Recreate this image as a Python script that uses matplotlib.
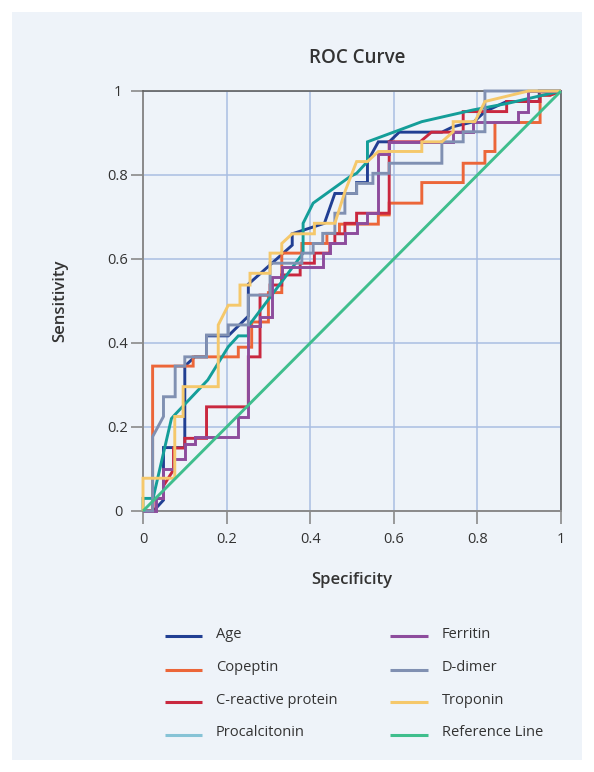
import matplotlib
matplotlib.use("Agg")
import matplotlib.pyplot as plt
from matplotlib.lines import Line2D
from matplotlib.patches import Rectangle

plt.rcParams['font.family'] = ['Open Sans', 'DejaVu Sans']

# ---------------- data (x = 1 - specificity axis value, y = sensitivity) ----------------
age_pts = [(0, 0), (0.025, 0), (0.049, 0.026), (0.049, 0.151), (0.1, 0.151), (0.1, 0.345),
           (0.124, 0.367), (0.152, 0.367), (0.152, 0.417), (0.204, 0.417), (0.252, 0.464),
           (0.252, 0.540), (0.357, 0.633), (0.357, 0.66), (0.434, 0.685), (0.459, 0.756),
           (0.511, 0.756), (0.511, 0.782), (0.537, 0.782), (0.537, 0.832), (0.563, 0.879),
           (0.589, 0.879), (0.613, 0.902), (0.715, 0.902), (0.742, 0.915), (0.792, 0.927),
           (0.818, 0.951), (0.870, 0.975), (0.948, 0.975), (0.948, 1), (1, 1)]

copeptin_pts = [(0, 0), (0.023, 0), (0.023, 0.345), (0.12, 0.345), (0.12, 0.367), (0.228, 0.367),
                (0.228, 0.39), (0.26, 0.39), (0.26, 0.45), (0.30, 0.45), (0.30, 0.52), (0.332, 0.52),
                (0.332, 0.614), (0.38, 0.614), (0.38, 0.637), (0.44, 0.637), (0.44, 0.661),
                (0.47, 0.661), (0.47, 0.683), (0.563, 0.683), (0.563, 0.705), (0.589, 0.705),
                (0.589, 0.733), (0.667, 0.733), (0.667, 0.782), (0.766, 0.782), (0.766, 0.828),
                (0.818, 0.828), (0.818, 0.856), (0.842, 0.856), (0.842, 0.925), (0.95, 0.925),
                (0.95, 0.99), (0.974, 0.99), (1, 1)]

crp_pts = [(0, 0), (0.024, 0), (0.024, 0.03), (0.049, 0.03), (0.049, 0.06), (0.073, 0.098),
           (0.073, 0.15), (0.1, 0.15), (0.1, 0.173), (0.152, 0.173), (0.152, 0.248), (0.252, 0.248),
           (0.252, 0.367), (0.28, 0.367), (0.28, 0.514), (0.304, 0.514), (0.304, 0.538),
           (0.332, 0.538), (0.332, 0.562), (0.376, 0.562), (0.376, 0.59), (0.41, 0.59),
           (0.41, 0.614), (0.447, 0.614), (0.447, 0.637), (0.459, 0.637), (0.459, 0.66),
           (0.483, 0.66), (0.483, 0.685), (0.511, 0.685), (0.511, 0.709), (0.589, 0.709),
           (0.589, 0.879), (0.663, 0.879), (0.69, 0.902), (0.766, 0.902), (0.766, 0.951),
           (0.870, 0.951), (0.870, 0.975), (0.95, 0.975), (0.95, 0.99), (0.974, 0.99), (1, 1)]

procalcitonin_pts = [(0, 0), (0, 0.03), (0.024, 0.03), (0.068, 0.22), (0.076, 0.229), (0.155, 0.312),
                     (0.204, 0.391), (0.228, 0.417), (0.252, 0.417), (0.252, 0.44), (0.335, 0.55),
                     (0.383, 0.614), (0.383, 0.685), (0.407, 0.733), (0.495, 0.796), (0.511, 0.804),
                     (0.537, 0.832), (0.537, 0.879), (0.613, 0.907), (0.667, 0.927), (0.79, 0.955),
                     (0.87, 0.97), (1, 1)]

ferritin_pts = [(0, 0), (0.03, 0), (0.03, 0.03), (0.049, 0.03), (0.049, 0.1), (0.073, 0.1),
                (0.073, 0.125), (0.1, 0.125), (0.1, 0.16), (0.124, 0.16), (0.124, 0.177),
                (0.228, 0.177), (0.228, 0.225), (0.252, 0.225), (0.252, 0.44), (0.28, 0.44),
                (0.28, 0.463), (0.308, 0.463), (0.308, 0.558), (0.332, 0.558), (0.332, 0.582),
                (0.43, 0.582), (0.43, 0.614), (0.447, 0.614), (0.447, 0.637), (0.483, 0.637),
                (0.483, 0.661), (0.511, 0.661), (0.511, 0.685), (0.537, 0.685), (0.537, 0.709),
                (0.563, 0.709), (0.563, 0.851), (0.589, 0.851), (0.589, 0.879), (0.742, 0.879),
                (0.742, 0.903), (0.79, 0.903), (0.79, 0.927), (0.898, 0.927), (0.898, 0.951),
                (0.922, 0.951), (0.922, 1), (1, 1)]

ddimer_pts = [(0, 0), (0.023, 0), (0.023, 0.177), (0.049, 0.225), (0.049, 0.272), (0.077, 0.272),
              (0.077, 0.345), (0.1, 0.345), (0.1, 0.367), (0.152, 0.367), (0.152, 0.419),
              (0.204, 0.419), (0.204, 0.443), (0.252, 0.443), (0.252, 0.514), (0.304, 0.514),
              (0.304, 0.59), (0.38, 0.59), (0.38, 0.614), (0.407, 0.614), (0.407, 0.637),
              (0.43, 0.637), (0.43, 0.661), (0.459, 0.661), (0.459, 0.709), (0.483, 0.709),
              (0.483, 0.756), (0.511, 0.756), (0.511, 0.78), (0.55, 0.78), (0.55, 0.804),
              (0.589, 0.804), (0.589, 0.828), (0.715, 0.828), (0.715, 0.879), (0.766, 0.879),
              (0.766, 0.903), (0.818, 0.903), (0.818, 1), (1, 1)]

troponin_pts = [(0, 0), (0, 0.078), (0.076, 0.078), (0.076, 0.225), (0.096, 0.225), (0.096, 0.296),
                (0.18, 0.296), (0.18, 0.443), (0.204, 0.49), (0.232, 0.49), (0.232, 0.538),
                (0.256, 0.538), (0.256, 0.566), (0.304, 0.566), (0.304, 0.614), (0.332, 0.614),
                (0.332, 0.637), (0.357, 0.66), (0.41, 0.66), (0.41, 0.685), (0.459, 0.685),
                (0.483, 0.76), (0.511, 0.832), (0.537, 0.832), (0.563, 0.856), (0.667, 0.856),
                (0.667, 0.879), (0.715, 0.879), (0.742, 0.903), (0.742, 0.927), (0.794, 0.927),
                (0.818, 0.975), (0.922, 1), (1, 1)]

reference_pts = [(0, 0), (1, 1)]

series_names = ["Age", "Copeptin", "C-reactive protein", "Procalcitonin",
                "Ferritin", "D-dimer", "Troponin", "Reference Line"]
series_data = [age_pts, copeptin_pts, crp_pts, procalcitonin_pts,
               ferritin_pts, ddimer_pts, troponin_pts, reference_pts]
line_colors = ["#213f93", "#ec6639", "#c9283f", "#149e99",
               "#8d4c9d", "#8090b2", "#f5c86b", "#3fbe8d"]
legend_colors = ["#213f93", "#ec6639", "#c9283f", "#86c3d6",
                 "#8d4c9d", "#8090b2", "#f5c86b", "#3fbe8d"]

tick_vals = [0, 0.2, 0.4, 0.6, 0.8, 1]
tick_labels = ["0", "0.2", "0.4", "0.6", "0.8", "1"]

# ---------------- figure ----------------
W, H = 594, 772
fig = plt.figure(figsize=(W / 100, H / 100), dpi=100)
fig.patch.set_facecolor("white")
fig.patches.append(Rectangle((12 / W, 12 / H), (W - 24) / W, (H - 24) / H,
                             transform=fig.transFigure, facecolor="#eef3f9",
                             edgecolor="none", zorder=-10))

ax = fig.add_axes([143 / W, 1 - 511 / H, 418 / W, 420 / H])
ax.set_facecolor("none")

txt = "#333333"
for name, pts, c in zip(series_names, series_data, line_colors):
    xs = [p[0] for p in pts]
    ys = [p[1] for p in pts]
    ax.plot(xs, ys, color=c, lw=2.1, solid_joinstyle="miter", solid_capstyle="butt",
            zorder=3, clip_on=False)

ax.set_xlim(0, 1)
ax.set_ylim(0, 1)
ax.set_xticks(tick_vals)
ax.set_xticklabels(tick_labels)
ax.set_yticks(tick_vals)
ax.set_yticklabels(tick_labels)
ax.grid(True, color="#a9bee2", lw=1.1, zorder=1)
ax.set_axisbelow(True)
ax.tick_params(axis="both", length=9, width=1.2, color="#8a8a8a",
               labelsize=10.5, labelcolor=txt)
ax.tick_params(axis="x", pad=6)
ax.tick_params(axis="y", pad=9)
for lbl in ax.get_yticklabels():
    lbl.set_horizontalalignment("center")
for side in ["left", "bottom"]:
    ax.spines[side].set_color("#8a8a8a")
    ax.spines[side].set_linewidth(1.4)
for side in ["top", "right"]:
    ax.spines[side].set_color("#606060")
    ax.spines[side].set_linewidth(1.2)

fig.text(357 / W, 1 - 58 / H, "ROC Curve", ha="center", va="center",
         fontsize=13.5, fontweight="semibold", color=txt)
fig.text(352 / W, 1 - 580 / H, "Specificity", ha="center", va="center",
         fontsize=12, fontweight="semibold", color=txt)
fig.text(60 / W, 1 - 301 / H, "Sensitivity", ha="center", va="center",
         rotation=90, fontsize=12, fontweight="semibold", color=txt)

# ---------------- legend ----------------
rows_y = [636, 669.5, 702, 735]
cols = [(165, 202, 216), (390, 428, 442)]
for i, (name, c) in enumerate(zip(series_names, legend_colors)):
    col = i // 4
    row = i % 4
    x0, x1, xt = cols[col]
    yy = 1 - rows_y[row] / H
    fig.add_artist(Line2D([x0 / W, x1 / W], [yy, yy], transform=fig.transFigure,
                          color=c, lw=2.2, solid_capstyle="butt"))
    fig.text(xt / W, yy + 2 / H, name, ha="left", va="center", fontsize=10.5, color=txt)

fig.savefig("out.png", dpi=100, facecolor="white")
